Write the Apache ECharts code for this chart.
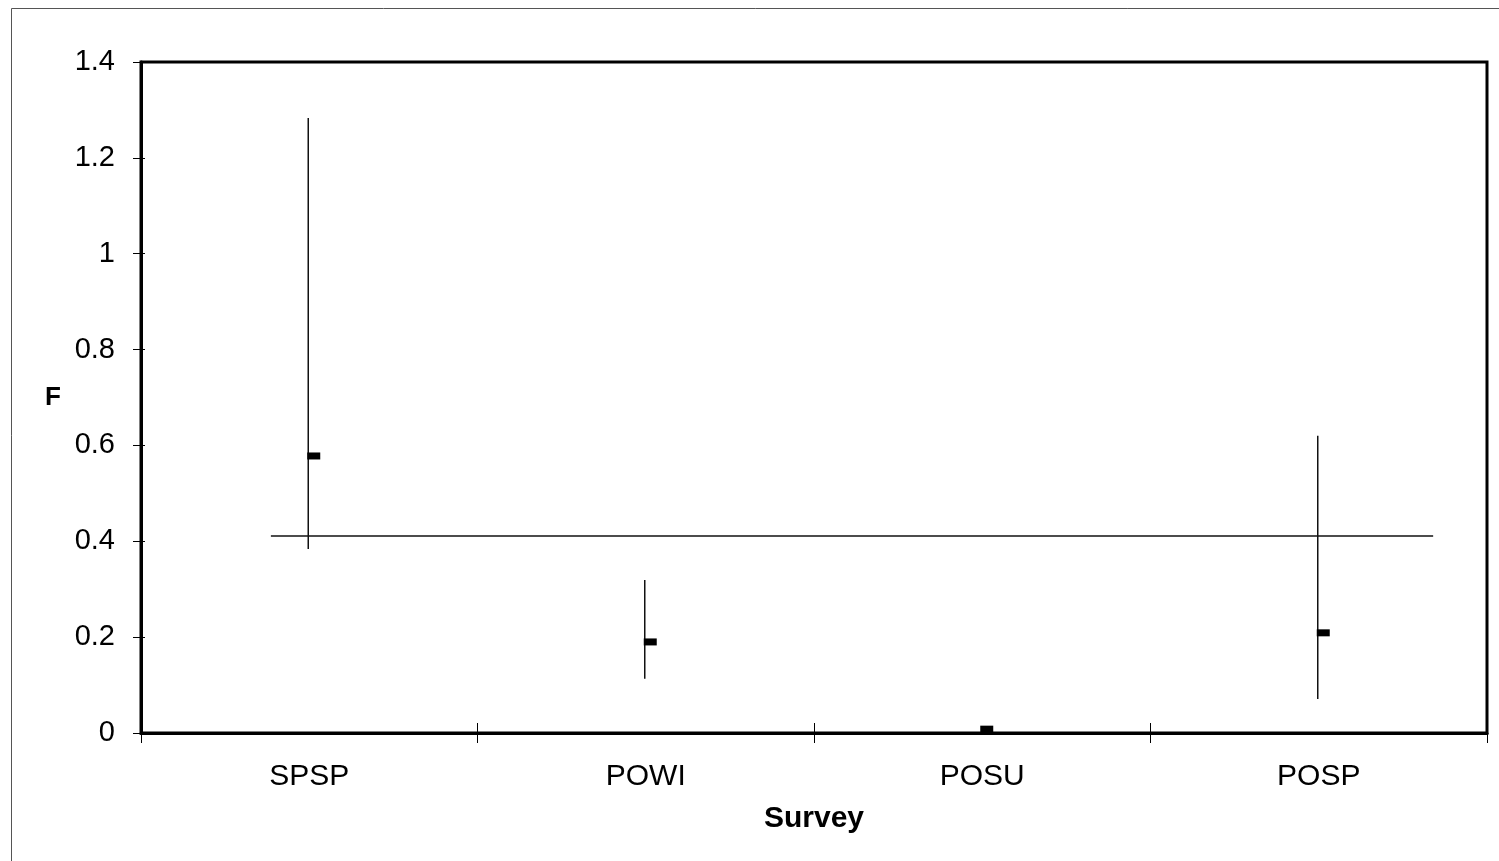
<!DOCTYPE html>
<html>
<head>
<meta charset="utf-8">
<script src="https://cdn.jsdelivr.net/npm/echarts@6/dist/echarts.min.js"></script>
<style>
html,body{margin:0;padding:0;background:#fff;}
#chart{width:1499px;height:861px;}
</style>
</head>
<body>
<div id="chart"></div>
<script>
// ---- data ----
var categories = ['SPSP', 'POWI', 'POSU', 'POSP'];
var meanF  = [0.578, 0.190, 0.008, 0.209];
var lowF   = [0.384, 0.113, 0.008, 0.071];
var highF  = [1.283, 0.319, 0.008, 0.620];
var refLineF = 0.411;
var refLineX = [-0.114, 3.34];   // extent of reference line in category-index units
var yTicks = [0, 0.2, 0.4, 0.6, 0.8, 1, 1.2, 1.4];

var errData = categories.map(function (c, i) { return [i, lowF[i], highF[i], meanF[i]]; });

var chart = echarts.init(document.getElementById('chart'), null, {renderer: 'canvas'});
var fontFam = '"Liberation Sans", Arial, sans-serif';

var option = {
  animation: false,
  backgroundColor: '#fff',
  graphic: [{
    type: 'rect', left: 9, top: 6, z: -1,
    shape: {width: 1500, height: 870},
    style: {fill: 'none', stroke: '#555', lineWidth: 1}
  }],
  grid: {left: 141, right: 12, top: 62, bottom: 128, show: true, borderColor: '#000', borderWidth: 3, backgroundColor: 'transparent'},
  xAxis: [{
    type: 'category', data: categories, boundaryGap: true,
    axisLine: {onZero: false, lineStyle: {color: '#000', width: 3}},
    axisTick: {show: true, alignWithLabel: false, inside: false, length: 10, lineStyle: {color: '#000', width: 1}},
    axisLabel: {color: '#000', fontSize: 30, fontFamily: fontFam, margin: 29},
    name: 'Survey', nameLocation: 'middle', nameGap: 71,
    nameTextStyle: {color: '#000', fontSize: 30, fontWeight: 'bold', fontFamily: fontFam},
    splitLine: {show: false}
  }, {
    type: 'value', min: -0.5, max: 3.5, show: false, position: 'bottom',
    axisLine: {onZero: false}, splitLine: {show: false}
  }, {
    type: 'category', data: categories, boundaryGap: true, position: 'bottom',
    axisLine: {show: false, onZero: false},
    axisTick: {show: true, alignWithLabel: false, inside: true, length: 10, lineStyle: {color: '#000', width: 1}},
    axisLabel: {show: false}, splitLine: {show: false}
  }],
  yAxis: [{
    type: 'value', min: 0, max: 1.4, interval: 0.2,
    axisLine: {show: true, onZero: false, lineStyle: {color: '#000', width: 3}},
    axisTick: {show: true, inside: false, length: 8, lineStyle: {color: '#000', width: 1}},
    axisLabel: {color: '#000', fontSize: 29, fontFamily: fontFam, margin: 26,
      formatter: function (v) { return String(Math.round(v * 10) / 10); }},
    splitLine: {show: false},
    name: 'F', nameLocation: 'middle', nameGap: 80, nameRotate: 0,
    nameTextStyle: {color: '#000', fontSize: 26, fontWeight: 'bold', fontFamily: fontFam}
  }, {
    type: 'value', min: 0, max: 1.4, interval: 0.2, position: 'left',
    axisLine: {show: false, onZero: false},
    axisTick: {show: true, inside: true, length: 4, lineStyle: {color: '#000', width: 1}},
    axisLabel: {show: false}, splitLine: {show: false}
  }],
  series: [{
    type: 'line', xAxisIndex: 1, yAxisIndex: 0,
    data: [[refLineX[0], refLineF], [refLineX[1], refLineF]],
    symbol: 'none', lineStyle: {color: '#111', width: 1.5}, z: 2
  }, {
    type: 'custom', xAxisIndex: 0, yAxisIndex: 0, z: 3,
    data: errData,
    renderItem: function (params, api) {
      var pLow = api.coord([api.value(0), api.value(1)]);
      var pHigh = api.coord([api.value(0), api.value(2)]);
      var pMean = api.coord([api.value(0), api.value(3)]);
      var x = pMean[0] - 1;
      var children = [];
      if (Math.abs(pLow[1] - pHigh[1]) > 1) {
        children.push({type: 'line', shape: {x1: x, y1: pLow[1], x2: x, y2: pHigh[1]},
          style: {stroke: '#111', lineWidth: 1.5}});
      }
      children.push({type: 'rect', shape: {x: x - 1, y: pMean[1] - 3.5, width: 13, height: 7},
        style: {fill: '#000'}});
      return {type: 'group', children: children};
    }
  }]
};
chart.setOption(option);
</script>
</body>
</html>
